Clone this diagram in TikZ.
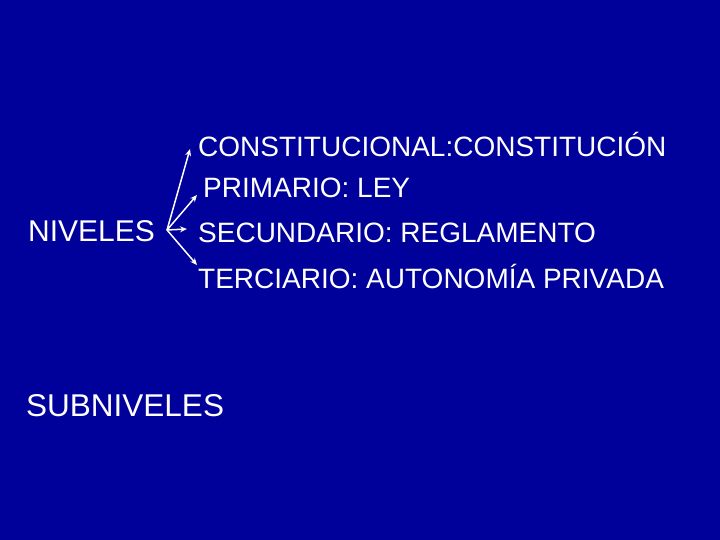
\documentclass[tikz,border=0pt]{standalone}
\usepackage{fontspec}
\setmainfont{Liberation Sans}
\usetikzlibrary{arrows.meta}

\begin{document}
\begin{tikzpicture}[x=1pt, y=-1pt]
    \definecolor{BG}{HTML}{00009A}
    \tikzset{
        lbl/.style={anchor=base west, inner sep=0pt, text=white, font=\fontsize{28}{33}\selectfont},
        side/.style={lbl, font=\fontsize{30}{35}\selectfont},
        big/.style={lbl, font=\fontsize{31.5}{37}\selectfont},
        arr/.style={draw=white, line width=1.5pt, -{Stealth[length=7pt, width=6pt]}}
    }

    \path[fill=BG, use as bounding box] (0,0) rectangle (720,540);

    \node[lbl] (cons) at (198,157) {CONSTITUCIONAL:CONSTITUCIÓN};
    \node[lbl] (prim) at (203,197) {PRIMARIO: LEY};
    \node[lbl] (secu) at (198,242) {SECUNDARIO: REGLAMENTO};
    \node[lbl] (terc) at (198,288) {TERCIARIO: AUTONOMÍA PRIVADA};

    \node[side] (niv) at (28,241) {NIVELES};
    \node[big] (subniv) at (26,416) {SUBNIVELES};

    \coordinate (hub) at (167,230);
    \coordinate (t1) at (190,149);
    \coordinate (t2) at (197,195);
    \coordinate (t3) at (187,229);
    \coordinate (t4) at (197,265);

    \path[arr] (hub) -- (t1);
    \path[arr] (hub) -- (t2);
    \path[arr] (hub) -- (t3);
    \path[arr] (hub) -- (t4);

\end{tikzpicture}
\end{document}
